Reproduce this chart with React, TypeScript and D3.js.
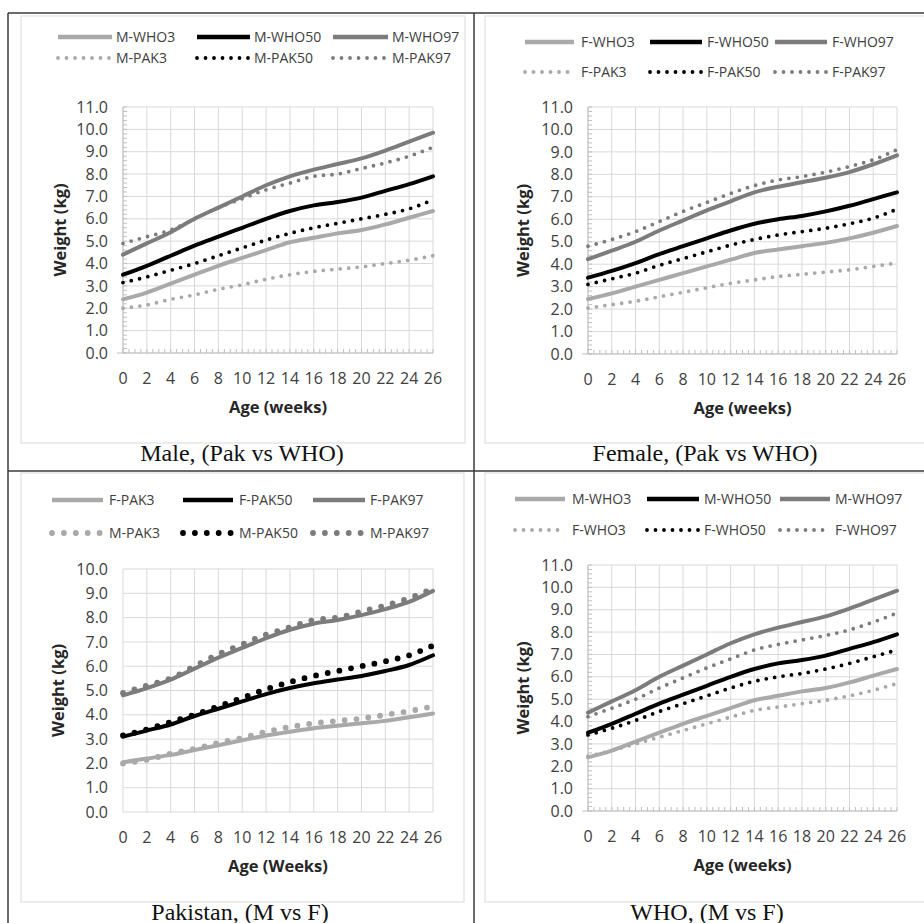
import React, { useEffect, useRef } from 'react';
import * as d3 from 'd3';

// age in weeks (every 2 weeks)
const weeks = [0, 2, 4, 6, 8, 10, 12, 14, 16, 18, 20, 22, 24, 26];

// WHO standards, boys
const mWho3 = [2.4, 2.7, 3.1, 3.5, 3.9, 4.25, 4.6, 4.95, 5.15, 5.35, 5.5, 5.75, 6.05, 6.35];
const mWho50 = [3.5, 3.9, 4.35, 4.8, 5.2, 5.6, 6.0, 6.35, 6.6, 6.75, 6.95, 7.25, 7.55, 7.9];
const mWho97 = [4.4, 4.9, 5.4, 6.0, 6.5, 7.0, 7.5, 7.9, 8.2, 8.45, 8.7, 9.05, 9.45, 9.85];
// Pakistan, boys
const mPak3 = [2.0, 2.15, 2.4, 2.6, 2.85, 3.05, 3.3, 3.5, 3.65, 3.75, 3.85, 4.0, 4.15, 4.35];
const mPak50 = [3.15, 3.4, 3.7, 4.0, 4.35, 4.7, 5.05, 5.35, 5.6, 5.8, 6.0, 6.2, 6.45, 6.85];
const mPak97 = [4.9, 5.2, 5.5, 6.0, 6.5, 6.9, 7.3, 7.6, 7.9, 8.0, 8.25, 8.5, 8.8, 9.2];
// WHO standards, girls
const fWho3 = [2.45, 2.7, 3.0, 3.3, 3.6, 3.9, 4.2, 4.5, 4.65, 4.8, 4.95, 5.15, 5.4, 5.7];
const fWho50 = [3.4, 3.7, 4.05, 4.45, 4.8, 5.15, 5.5, 5.8, 6.0, 6.15, 6.35, 6.6, 6.9, 7.2];
const fWho97 = [4.22, 4.6, 5.0, 5.5, 5.95, 6.4, 6.8, 7.2, 7.45, 7.65, 7.85, 8.1, 8.45, 8.85];
// Pakistan, girls
const fPak3 = [2.05, 2.2, 2.35, 2.55, 2.75, 2.95, 3.15, 3.3, 3.45, 3.55, 3.65, 3.75, 3.9, 4.05];
const fPak50 = [3.1, 3.35, 3.6, 3.95, 4.25, 4.55, 4.85, 5.1, 5.3, 5.45, 5.6, 5.8, 6.05, 6.45];
const fPak97 = [4.8, 5.1, 5.45, 5.9, 6.35, 6.75, 7.15, 7.5, 7.75, 7.9, 8.1, 8.35, 8.65, 9.1];

const LIGHT = '#a9a9a9';
const DARK = '#7c7c7c';
const BLACK = '#000000';

const panels = [
  {
    caption: 'Male, (Pak vs WHO)', xTitle: 'Age (weeks)', yMax: 11, minor: true, bigDots: false,
    box: [21, 16, 465, 443], plot: [123, 107, 433, 353], legendY: [37, 58],
    legendX: [[58, 112, 116], [197, 250, 254], [333, 388, 392]], yTitleX: 60, captionX: 242, captionY: 461,
    series: [
      { name: 'M-WHO3', values: mWho3, color: LIGHT, dotted: false },
      { name: 'M-WHO50', values: mWho50, color: BLACK, dotted: false },
      { name: 'M-WHO97', values: mWho97, color: DARK, dotted: false },
      { name: 'M-PAK3', values: mPak3, color: LIGHT, dotted: true },
      { name: 'M-PAK50', values: mPak50, color: BLACK, dotted: true },
      { name: 'M-PAK97', values: mPak97, color: DARK, dotted: true },
    ],
  },
  {
    caption: 'Female, (Pak vs WHO)', xTitle: 'Age (weeks)', yMax: 11, minor: true, bigDots: false,
    box: [485, 16, 930, 443], plot: [588, 107, 897, 354], legendY: [42, 72],
    legendX: [[525, 574, 581], [650, 702, 707], [775, 827, 832]], yTitleX: 523, captionX: 705, captionY: 461,
    series: [
      { name: 'F-WHO3', values: fWho3, color: LIGHT, dotted: false },
      { name: 'F-WHO50', values: fWho50, color: BLACK, dotted: false },
      { name: 'F-WHO97', values: fWho97, color: DARK, dotted: false },
      { name: 'F-PAK3', values: fPak3, color: LIGHT, dotted: true },
      { name: 'F-PAK50', values: fPak50, color: BLACK, dotted: true },
      { name: 'F-PAK97', values: fPak97, color: DARK, dotted: true },
    ],
  },
  {
    caption: 'Pakistan, (M vs F)', xTitle: 'Age (Weeks)', yMax: 10, minor: false, bigDots: true,
    box: [21, 473, 464, 902], plot: [123, 569, 433, 812], legendY: [500, 533],
    legendX: [[52, 103, 109], [183, 233, 239], [313, 365, 370]], yTitleX: 58, captionX: 240, captionY: 920,
    series: [
      { name: 'F-PAK3', values: fPak3, color: LIGHT, dotted: false },
      { name: 'F-PAK50', values: fPak50, color: BLACK, dotted: false },
      { name: 'F-PAK97', values: fPak97, color: DARK, dotted: false },
      { name: 'M-PAK3', values: mPak3, color: LIGHT, dotted: true },
      { name: 'M-PAK50', values: mPak50, color: BLACK, dotted: true },
      { name: 'M-PAK97', values: mPak97, color: DARK, dotted: true },
    ],
  },
  {
    caption: 'WHO, (M vs F)', xTitle: 'Age (weeks)', yMax: 11, minor: true, bigDots: false,
    box: [485, 473, 930, 902], plot: [588, 565, 897, 811], legendY: [499, 530],
    legendX: [[515, 565, 572], [647, 699, 704], [780, 830, 835]], yTitleX: 523, captionX: 707, captionY: 920,
    series: [
      { name: 'M-WHO3', values: mWho3, color: LIGHT, dotted: false },
      { name: 'M-WHO50', values: mWho50, color: BLACK, dotted: false },
      { name: 'M-WHO97', values: mWho97, color: DARK, dotted: false },
      { name: 'F-WHO3', values: fWho3, color: LIGHT, dotted: true },
      { name: 'F-WHO50', values: fWho50, color: BLACK, dotted: true },
      { name: 'F-WHO97', values: fWho97, color: DARK, dotted: true },
    ],
  },
];

const SANS = "'Open Sans', 'Noto Sans', sans-serif";
const SERIF = "'Liberation Serif', 'DejaVu Serif', serif";

function GrowthCharts() {
  const ref = useRef<SVGSVGElement>(null);

  useEffect(() => {
    const width = 924, height = 923;
    const svg = d3.select(ref.current).attr('width', width).attr('height', height);
    svg.selectAll('*').remove();

    svg.append('rect').attr('width', width).attr('height', height).attr('fill', '#fff');

    panels.forEach((p) => {
      const g = svg.append('g');
      const [bx0, by0, bx1, by1] = p.box;
      const [px0, py0, px1, py1] = p.plot;

      g.append('rect')
        .attr('x', bx0).attr('y', by0).attr('width', bx1 - bx0).attr('height', by1 - by0)
        .attr('fill', '#fff').attr('stroke', '#d9d9d9');

      const x = d3.scaleLinear().domain([0, 26]).range([px0, px1]);
      const y = d3.scaleLinear().domain([0, p.yMax]).range([py1, py0]);

      // gridlines
      g.append('g').selectAll('line').data(d3.range(0, p.yMax + 1)).join('line')
        .attr('x1', px0).attr('x2', px1).attr('y1', (d) => y(d)).attr('y2', (d) => y(d))
        .attr('stroke', '#d9d9d9').attr('stroke-width', 1);
      g.append('g').selectAll('line').data(weeks).join('line')
        .attr('x1', (d) => x(d)).attr('x2', (d) => x(d)).attr('y1', py0).attr('y2', py1)
        .attr('stroke', '#d9d9d9').attr('stroke-width', 1);

      if (p.minor) {
        g.append('line').attr('x1', px0).attr('x2', px0).attr('y1', py0).attr('y2', py1)
          .attr('stroke', '#bfbfbf');
        g.append('line').attr('x1', px0 - 6).attr('x2', px1).attr('y1', py1).attr('y2', py1)
          .attr('stroke', '#bfbfbf');
        g.append('g').selectAll('line').data(d3.range(0, p.yMax * 5 + 1)).join('line')
          .attr('x1', px0).attr('x2', px0 + 4)
          .attr('y1', (d) => y(d / 5)).attr('y2', (d) => y(d / 5))
          .attr('stroke', '#bfbfbf');
        g.append('g').selectAll('line').data(d3.range(0, 53)).join('line')
          .attr('x1', (d) => x(d / 2)).attr('x2', (d) => x(d / 2))
          .attr('y1', py1).attr('y2', py1 - 4)
          .attr('stroke', '#bfbfbf');
      }

      // tick labels
      g.append('g').selectAll('text').data(d3.range(0, p.yMax + 1)).join('text')
        .attr('x', px0 - 15).attr('y', (d) => y(d)).attr('dy', '0.35em')
        .attr('text-anchor', 'end').attr('font-family', SANS).attr('font-size', 16)
        .attr('fill', '#404040').text((d) => d3.format('.1f')(d));
      g.append('g').selectAll('text').data(weeks).join('text')
        .attr('x', (d) => x(d)).attr('y', py1 + 25).attr('dy', '0.35em')
        .attr('text-anchor', 'middle').attr('font-family', SANS).attr('font-size', 16)
        .attr('fill', '#404040').text((d) => d);

      // axis titles
      g.append('text').attr('x', (px0 + px1) / 2).attr('y', py1 + 54).attr('dy', '0.35em')
        .attr('text-anchor', 'middle').attr('font-family', SANS).attr('font-size', 16.5)
        .attr('font-weight', 'bold').attr('fill', '#262626').text(p.xTitle);
      g.append('text')
        .attr('transform', `translate(${p.yTitleX},${(py0 + py1) / 2}) rotate(-90)`)
        .attr('dy', '0.35em').attr('text-anchor', 'middle').attr('font-family', SANS)
        .attr('font-size', 16.5).attr('font-weight', 'bold').attr('fill', '#262626')
        .text('Weight (kg)');

      const line = d3.line<number>()
        .x((_, i) => x(weeks[i]))
        .y((d) => y(d))
        .curve(d3.curveMonotoneX);

      const dash = p.bigDots ? '0 11.9' : '0 8.5';
      const dotW = p.bigDots ? 5.8 : 3.8;

      // solid lines first, dotted on top
      const ordered = [...p.series.filter((s) => !s.dotted), ...p.series.filter((s) => s.dotted)];
      ordered.forEach((s) => {
        g.append('path')
          .datum(s.values)
          .attr('fill', 'none')
          .attr('stroke', s.color)
          .attr('stroke-width', s.dotted ? dotW : 4)
          .attr('stroke-linecap', 'round')
          .attr('stroke-linejoin', 'round')
          .attr('stroke-dasharray', s.dotted ? dash : null)
          .attr('d', line);
      });

      // legend
      p.series.forEach((s, i) => {
        const row = Math.floor(i / 3);
        const [lx0, lx1, tx] = p.legendX[i % 3];
        const ly = p.legendY[row];
        g.append('line').attr('x1', lx0).attr('x2', lx1).attr('y1', ly).attr('y2', ly)
          .attr('stroke', s.color)
          .attr('stroke-width', s.dotted ? dotW : 4.5)
          .attr('stroke-linecap', s.dotted ? 'round' : 'butt')
          .attr('stroke-dasharray', s.dotted ? dash : null);
        g.append('text').attr('x', tx).attr('y', ly).attr('dy', '0.35em')
          .attr('font-family', SANS).attr('font-size', 14).attr('fill', '#404040')
          .text(s.name);
      });

      g.append('text').attr('x', p.captionX).attr('y', p.captionY)
        .attr('text-anchor', 'middle').attr('font-family', SERIF).attr('font-size', 24)
        .attr('fill', '#111').text(p.caption);
    });

    // outer table rules
    const rules = [
      [8, 13, 924, 13], [8, 13, 8, 923], [474, 13, 474, 923], [8, 471, 924, 471],
    ];
    svg.append('g').selectAll('line').data(rules).join('line')
      .attr('x1', (d) => d[0]).attr('y1', (d) => d[1]).attr('x2', (d) => d[2]).attr('y2', (d) => d[3])
      .attr('stroke', '#3a3a3a').attr('stroke-width', 1.5);
  }, []);

  return <svg ref={ref}></svg>;
}

export default function App() {
  return (
    <div style={{ position: 'absolute', left: 0, top: 0 }}>
      <GrowthCharts />
    </div>
  );
}
